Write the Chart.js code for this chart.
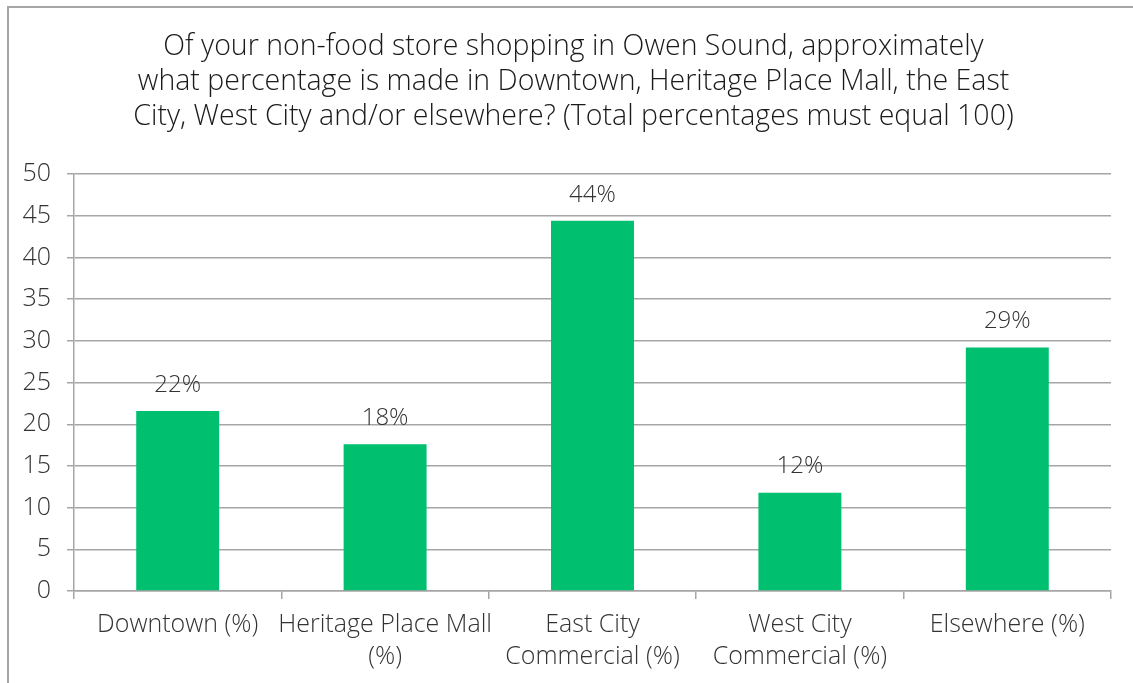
<!DOCTYPE html>
<html>
<head>
<meta charset="utf-8">
<script src="https://cdn.jsdelivr.net/npm/chart.js@4"></script>
<style>
  html, body { margin: 0; padding: 0; background: #fff; }
  #wrap { position: relative; width: 1133px; height: 683px; overflow: hidden; }
  #frame {
    position: absolute; left: 7px; top: 6px; width: 1200px; height: 800px;
    border-left: 2px solid #a6a6a6; border-top: 2px solid #a6a6a6;
  }
  canvas { position: absolute; left: 0; top: 0; }
</style>
</head>
<body>
<div id="wrap">
  <div id="frame"></div>
  <canvas id="chart" width="1133" height="683"></canvas>
</div>
<script>
const titleLines = [
  'Of your non-food store shopping in Owen Sound, approximately',
  'what percentage is made in Downtown, Heritage Place Mall, the East',
  'City, West City and/or elsewhere? (Total percentages must equal 100)',
];
const categories = [
  ['Downtown (%)'],
  ['Heritage Place Mall', '(%)'],
  ['East City', 'Commercial (%)'],
  ['West City', 'Commercial (%)'],
  ['Elsewhere (%)'],
];
const shares = [21.6, 17.6, 44.4, 11.8, 29.2];
const yTicks = [0, 5, 10, 15, 20, 25, 30, 35, 40, 45, 50];

const FONT = '"Open Sans", "Segoe UI", sans-serif';
const TEXT = '#333333';
const GRID = '#a6a6a6';

// percent labels on top of each bar
const barLabels = {
  id: 'barLabels',
  afterDatasetsDraw(chart) {
    const ctx = chart.ctx;
    const meta = chart.getDatasetMeta(0);
    ctx.save();
    ctx.font = '300 24px ' + FONT;
    ctx.fillStyle = TEXT;
    ctx.textAlign = 'center';
    ctx.textBaseline = 'bottom';
    meta.data.forEach((bar, i) => {
      ctx.fillText(Math.round(shares[i]) + '%', bar.x, bar.y - 14);
    });
    ctx.restore();
  },
};

// center the title over the framed box rather than the padded canvas
const titleShift = {
  id: 'titleShift',
  afterLayout(chart) {
    if (chart.titleBlock) chart.titleBlock.left = 36;
  },
};

new Chart(document.getElementById('chart'), {
  type: 'bar',
  data: {
    labels: categories,
    datasets: [{
      data: shares,
      backgroundColor: '#00bf6f',
      borderWidth: 0,
      barPercentage: 0.4,
      categoryPercentage: 1,
    }],
  },
  options: {
    responsive: false,
    animation: false,
    layout: { padding: { left: 10, right: 22, top: 29, bottom: 0 } },
    plugins: {
      legend: { display: false },
      tooltip: { enabled: false },
      title: {
        display: true,
        text: titleLines,
        color: '#1a1a1a',
        font: { family: FONT, size: 28.5, weight: 300, lineHeight: 1.23 },
        padding: { top: 0, bottom: 40 },
      },
    },
    scales: {
      x: {
        grid: {
          offset: true,
          drawOnChartArea: false,
          drawTicks: true,
          tickLength: 8,
          color: GRID,
          lineWidth: 1.5,
        },
        border: { color: GRID, width: 1.5 },
        ticks: {
          color: TEXT,
          padding: 10,
          maxRotation: 0,
          autoSkip: false,
          font: { family: FONT, size: 25, weight: 300, lineHeight: 1.28 },
        },
      },
      y: {
        min: 0,
        max: 50,
        afterBuildTicks(scale) {
          scale.ticks = yTicks.map((v) => ({ value: v }));
        },
        afterFit(scale) {
          scale.width = 64;
        },
        grid: {
          color: GRID,
          lineWidth: 1.5,
          tickLength: 7,
        },
        border: { color: GRID, width: 1.5 },
        ticks: {
          color: TEXT,
          padding: 16,
          font: { family: FONT, size: 25, weight: 300 },
        },
      },
    },
  },
  plugins: [barLabels, titleShift],
});
</script>
</body>
</html>
